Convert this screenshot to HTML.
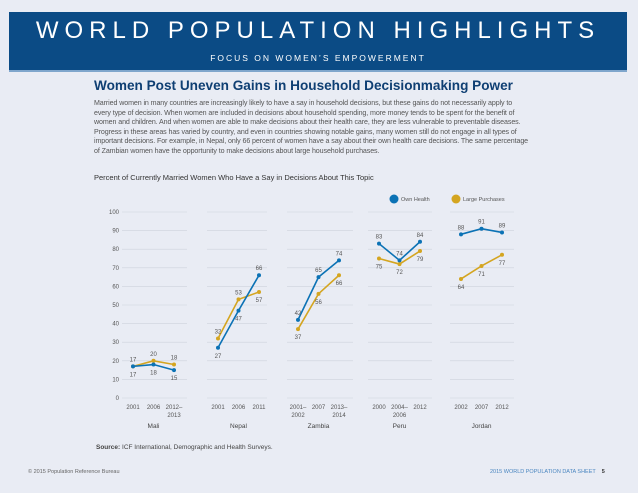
<!DOCTYPE html>
<html><head><meta charset="utf-8"><style>
body{margin:0;width:638px;height:493px;background:#e9ecf4;font-family:"Liberation Sans",sans-serif;overflow:hidden;position:relative}
.abs{position:absolute}
</style></head><body>
<div class="abs" style="left:9px;top:12px;width:618px;height:58px;background:#0b4b85;border-bottom:2px solid #7fa6cc"></div>
<div class="abs" style="left:9px;top:17px;width:618px;text-align:center;color:#fff;font-size:24px;letter-spacing:6px;white-space:nowrap">WORLD POPULATION HIGHLIGHTS</div>
<div class="abs" style="left:9px;top:53px;width:618px;text-align:center;color:#fff;font-size:8.5px;letter-spacing:2px;white-space:nowrap">FOCUS ON WOMEN’S EMPOWERMENT</div>
<div class="abs" style="left:94px;top:78px;color:#0f3f73;font-size:13.6px;font-weight:bold;white-space:nowrap">Women Post Uneven Gains in Household Decisionmaking Power</div>
<div class="abs" style="left:94px;top:99px;width:436px;color:#555;font-size:7.1px;line-height:9.6px;letter-spacing:-0.1px">Married women in many countries are increasingly likely to have a say in household decisions, but these gains do not necessarily apply to every type of decision. When women are included in decisions about household spending, more money tends to be spent for the benefit of women and children. And when women are able to make decisions about their health care, they are less vulnerable to preventable diseases. Progress in these areas has varied by country, and even in countries showing notable gains, many women still do not engage in all types of important decisions. For example, in Nepal, only 66 percent of women have a say about their own health care decisions. The same percentage of Zambian women have the opportunity to make decisions about large household purchases.</div>
<div class="abs" style="left:94px;top:173px;color:#333;font-size:7.5px">Percent of Currently Married Women Who Have a Say in Decisions About This Topic</div>
<svg class="abs" style="left:0;top:0" width="638" height="493" id="chart"></svg>
<div class="abs" style="left:96px;top:444px;color:#444;font-size:6.5px"><b>Source:</b> ICF International, Demographic and Health Surveys.</div>
<div class="abs" style="left:28px;top:469px;color:#666;font-size:5.5px">© 2015 Population Reference Bureau</div>
<div class="abs" style="left:490px;top:469px;color:#4a86c0;font-size:5.5px">2015 WORLD POPULATION DATA SHEET &nbsp;&nbsp; <b style="color:#333">5</b></div>
<script>
const countries=["Mali","Nepal","Zambia","Peru","Jordan"];
const years=[["2001","2006","2012–\n2013"],["2001","2006","2011"],["2001–\n2002","2007","2013–\n2014"],["2000","2004–\n2006","2012"],["2002","2007","2012"]];
const ownHealth=[[17,18,15],[27,47,66],[42,65,74],[83,74,84],[88,91,89]];
const largePurchases=[[17,20,18],[32,53,57],[37,56,66],[75,72,79],[64,71,77]];
const yTicks=[0,10,20,30,40,50,60,70,80,90,100];
const svg=document.getElementById('chart');const NS='http://www.w3.org/2000/svg';
function mk(t,a,p){const e=document.createElementNS(NS,t);for(const k in a)e.setAttribute(k,a[k]);(p||svg).appendChild(e);return e;}
const y=v=>398-v*1.86;
const panelL=[122,207,287,368,450],panelW=[65,60,66,64,64];
const px=(c,i)=>panelL[c]+11+i*20.5;
yTicks.forEach(t=>{const l=mk('text',{x:119,y:y(t)+2,'text-anchor':'end','font-size':6,fill:'#555'});l.textContent=t;

panelL.forEach((L,c)=>{const g=mk('line',{x1:L,x2:L+panelW[c],y1:y(t),y2:y(t),stroke:'#cdd2dc','stroke-width':0.6});});});
function series(vals,color,name,above){vals.forEach((arr,c)=>{
 const pts=arr.map((v,i)=>px(c,i)+','+y(v)).join(' ');
 const pl=mk('polyline',{points:pts,fill:'none',stroke:color,'stroke-width':1.6});
 arr.forEach((v,i)=>{const d=mk('circle',{cx:px(c,i),cy:y(v),r:2,fill:color});
 const t=mk('text',{x:px(c,i),y:y(v)+(above(c,i)?-5:10),'text-anchor':'middle','font-size':6,fill:'#555'});t.textContent=v;});});}
series(largePurchases,'#d4a520','large-purchases',(c,i)=>c==0||(c==1&&i<2)?true:false);
series(ownHealth,'#0b72b5','own-health',(c,i)=>!(c==0||(c==1&&i<2)));
years.forEach((ys,c)=>{ys.forEach((s,i)=>{s.split('\n').forEach((ln,j)=>{const t=mk('text',{x:px(c,i),y:409+j*8,'text-anchor':'middle','font-size':6,fill:'#555'});t.textContent=ln;});});
 const n=mk('text',{x:px(c,1),y:428,'text-anchor':'middle','font-size':6.5,fill:'#444'});n.textContent=countries[c];});
[[394,'#0b72b5','Own Health','legend-own-health'],[456,'#d4a520','Large Purchases','legend-large-purchases']].forEach(([x,c,l,nm])=>{const g=mk('g',{});mk('circle',{cx:x,cy:199,r:4.5,fill:c},g);const t=mk('text',{x:x+7,y:201,'font-size':5.5,fill:'#555'},g);t.textContent=l;});
</script>
</body></html>
